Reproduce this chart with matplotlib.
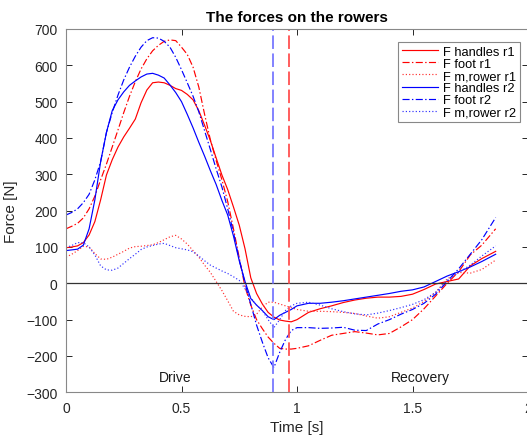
import matplotlib
matplotlib.use("Agg")
import matplotlib.pyplot as plt

plt.rcParams['font.family'] = ['Liberation Sans', 'DejaVu Sans']

# Time samples [s]: fine steps through the drive, coarser through the recovery
t = [0, 0.025, 0.05, 0.075, 0.1, 0.125, 0.15, 0.175, 0.2, 0.225,
     0.25, 0.275, 0.3, 0.325, 0.35, 0.375, 0.4, 0.425, 0.45, 0.475,
     0.5, 0.525, 0.55, 0.575, 0.6, 0.625, 0.65, 0.675, 0.7, 0.725,
     0.75, 0.775, 0.8, 0.825, 0.85, 0.875, 0.9, 0.925, 0.95, 0.975,
     1.0, 1.05, 1.1, 1.15, 1.2, 1.25, 1.3, 1.35, 1.4, 1.45,
     1.5, 1.55, 1.6, 1.65, 1.7, 1.75, 1.8, 1.86]

# Rower 1 forces [N]
f_handles_r1 = [98, 100, 103, 112, 133, 170, 230, 298, 340, 375,
                403, 427, 452, 497, 532, 552, 554, 552, 545, 536,
                531, 520, 505, 475, 435, 393, 345, 298, 258, 210,
                160, 95, 15, -28, -57, -80, -93, -101, -104, -106,
                -100, -80, -70, -62, -53, -46, -41, -38, -38, -36,
                -30, -17, -2, 5, 12, 48, 68, 88]
f_foot_r1 = [150, 157, 165, 180, 205, 240, 285, 328, 375, 422,
             470, 515, 555, 590, 618, 640, 655, 666, 670, 668,
             650, 630, 595, 540, 465, 395, 338, 285, 225, 150,
             70, -10, -60, -100, -125, -148, -165, -179, -181, -181,
             -179, -172, -157, -143, -138, -133, -137, -142, -138, -120,
             -100, -70, -35, 0, 32, 78, 105, 150]
f_m_rower_r1 = [72, 80, 90, 102, 100, 82, 67, 66, 72, 80,
                88, 97, 101, 102, 104, 106, 112, 120, 128, 132,
                122, 108, 90, 72, 50, 30, 5, -20, -48, -77,
                -87, -91, -92, -85, -65, -52, -52, -57, -62, -67,
                -72, -77, -77, -78, -80, -83, -90, -96, -92, -80,
                -68, -50, -25, 12, 30, 28, 38, 64]

# Rower 2 forces [N]
f_handles_r2 = [90, 92, 94, 105, 150, 230, 335, 415, 475, 505,
                527, 545, 557, 568, 576, 578, 573, 565, 546, 525,
                500, 465, 428, 388, 350, 310, 272, 228, 188, 130,
                62, 5, -42, -60, -75, -92, -100, -88, -80, -72,
                -62, -55, -55, -52, -48, -43, -38, -33, -28, -22,
                -18, -10, 5, 20, 32, 45, 60, 80]
f_foot_r2 = [188, 195, 205, 222, 245, 285, 335, 415, 470, 518,
             560, 595, 625, 650, 668, 676, 675, 666, 650, 622,
             588, 552, 515, 472, 420, 368, 315, 265, 205, 140,
             65, 0, -58, -115, -162, -205, -232, -190, -155, -130,
             -122, -122, -124, -123, -121, -129, -130, -112, -100, -85,
             -72, -55, -30, 5, 40, 80, 120, 181]
f_m_rower_r2 = [98, 104, 112, 112, 100, 78, 48, 37, 36, 42,
                55, 68, 80, 93, 100, 104, 108, 110, 104, 98,
                95, 92, 87, 75, 62, 50, 42, 34, 27, 18,
                8, -15, -40, -60, -75, -100, -122, -100, -75, -62,
                -55, -52, -60, -70, -78, -84, -87, -82, -75, -67,
                -58, -45, -25, 8, 30, 50, 75, 103]

# End of drive for each rower [s]
t_finish_r1 = 0.965
t_finish_r2 = 0.895

labels = ['F handles r1', 'F foot r1', 'F m,rower r1',
          'F handles r2', 'F foot r2', 'F m,rower r2']

fig = plt.figure(figsize=(5.27, 4.39), dpi=100)
ax = fig.add_axes([66 / 527, 1 - 393.3 / 439, (528 - 66) / 527, (393.3 - 30) / 439])

lw = 0.85
dot = (0, (1, 1.8))
dashdot = (0, (6, 2, 1.2, 2))
ax.plot(t, f_handles_r1, color='#ff0000', lw=lw, ls='-', label=labels[0])
ax.plot(t, f_foot_r1, color='#ff0000', lw=lw, ls=dashdot, label=labels[1])
ax.plot(t, f_m_rower_r1, color='#ff3030', lw=lw, ls=dot, label=labels[2])
ax.plot(t, f_handles_r2, color='#0000ff', lw=lw, ls='-', label=labels[3])
ax.plot(t, f_foot_r2, color='#0000ff', lw=lw, ls=dashdot, label=labels[4])
ax.plot(t, f_m_rower_r2, color='#3030ff', lw=lw, ls=dot, label=labels[5])

ax.axhline(0, color='#333333', lw=0.9)
ax.axvline(t_finish_r2, color='#7878ff', lw=1.3, ls=(0, (7.5, 2.5)))
ax.axvline(t_finish_r1, color='#ff5050', lw=1.3, ls=(0, (7.5, 2.5)))

ax.text(0.472, -258, 'Drive', ha='center', va='center', fontsize=10, color='#1a1a1a')
ax.text(1.532, -258, 'Recovery', ha='center', va='center', fontsize=10, color='#1a1a1a')

ax.set_xlim(0, 2)
ax.set_ylim(-300, 700)
ax.set_xticks([0, 0.5, 1, 1.5, 2])
ax.set_xticklabels(['0', '0.5', '1', '1.5', '2'])
ax.set_yticks(range(-300, 701, 100))

ax.tick_params(direction='in', length=4, width=0.7, colors='#262626',
               labelsize=10, top=True, right=True, pad=6)
for s in ax.spines.values():
    s.set_color('#888888')
    s.set_linewidth(0.8)

ax.set_xlabel('Time [s]', fontsize=11, color='#262626', labelpad=4)
ax.set_ylabel('Force [N]', fontsize=11, color='#262626', labelpad=6)
ax.set_title('The forces on the rowers', fontsize=11, fontweight='bold', pad=6)

leg = ax.legend(loc='upper right', bbox_to_anchor=(520 / 527, 1 - 43 / 439),
                bbox_transform=fig.transFigure, borderaxespad=0, fontsize=9.3,
                labelspacing=0.0, handlelength=2.8, handletextpad=0.35,
                borderpad=0.3, fancybox=False, framealpha=1)
leg.get_frame().set_edgecolor('#888888')
leg.get_frame().set_linewidth(0.8)

fig.savefig('out.png', dpi=100)
